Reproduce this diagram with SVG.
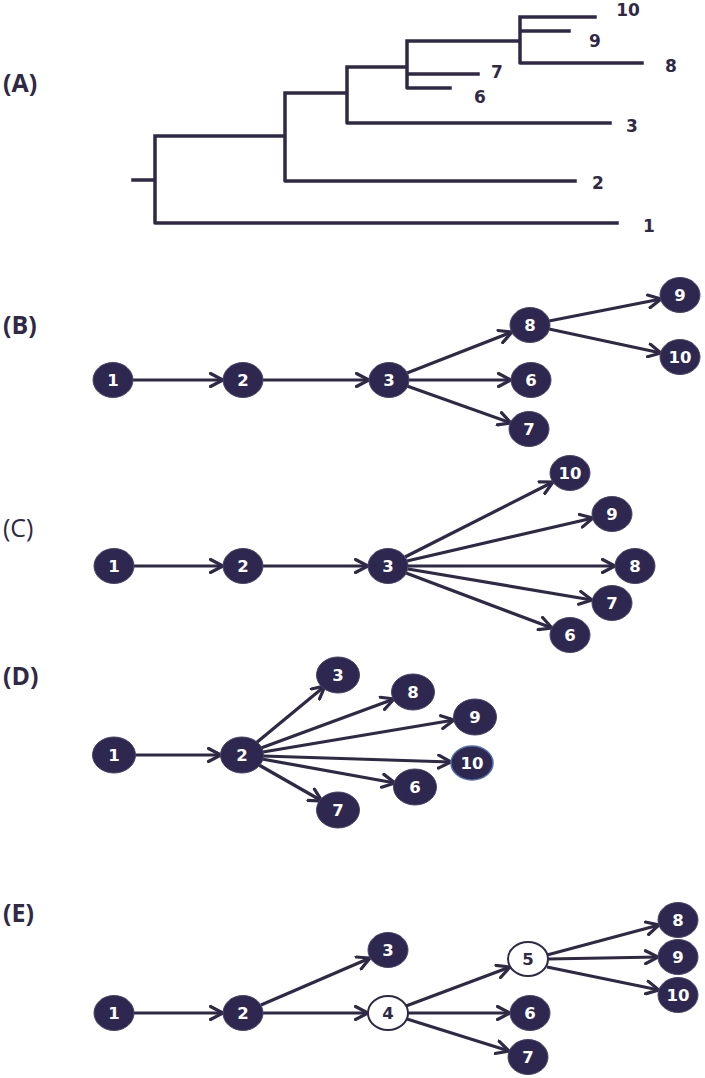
<svg xmlns="http://www.w3.org/2000/svg" width="705" height="1078" viewBox="0 0 705 1078">
<style>
.bg{fill:#ffffff}
.tree{fill:none;stroke:#2f2946;stroke-width:3.5;stroke-linecap:square;stroke-linejoin:round}
.tl{font-family:"DejaVu Sans",Verdana,sans-serif;font-weight:bold;font-size:17px;fill:#2f2946;text-anchor:middle}
.pl{font-family:"Open Sans","DejaVu Sans",sans-serif;font-weight:bold;font-size:25px;fill:#2f2946}
.plr{font-family:"Open Sans","DejaVu Sans",sans-serif;font-weight:normal;font-size:25px;fill:#2f2946}
.edge{fill:none;stroke:#2f2946;stroke-width:3.2;marker-end:url(#arr)}
.n ellipse{fill:#2e2850;stroke:#4a4468;stroke-width:1}
.n text{font-family:"DejaVu Sans",Verdana,sans-serif;font-weight:bold;font-size:16.5px;fill:#ffffff;text-anchor:middle}
.w ellipse{fill:#ffffff;stroke:#2f2946;stroke-width:2}
.w text{font-family:"DejaVu Sans",Verdana,sans-serif;font-weight:bold;font-size:16.5px;fill:#2f2946;text-anchor:middle}
</style>
<defs>
<marker id="arr" viewBox="0 0 16 16" refX="14" refY="8" markerWidth="16" markerHeight="16" markerUnits="userSpaceOnUse" orient="auto">
<path d="M1.5,1.5 L14,8 L1.5,14.5" fill="none" stroke="#2f2946" stroke-width="3.2" stroke-linecap="round" stroke-linejoin="miter"/>
</marker>
</defs>
<rect class="bg" x="0" y="0" width="705" height="1078"/>

<!-- Panel A: tree -->
<g id="panelA">
<text class="pl" x="3" y="92">(A)</text>
<path class="tree" d="M133,180 H155 M155,136 V223 H617 M155,136 H285 M285,93 V181 H575 M285,93 H347 M347,67 V123 H610 M347,67 H407 M407,41 V88 H450 M407,74 H478 M407,41 H520 M520,17 V63 H642 M520,17 H595 M520,31 H569"/>
<text class="tl" x="628" y="16">10</text>
<text class="tl" x="595" y="47">9</text>
<text class="tl" x="671" y="72">8</text>
<text class="tl" x="497" y="78">7</text>
<text class="tl" x="480" y="103">6</text>
<text class="tl" x="632" y="132">3</text>
<text class="tl" x="598" y="189">2</text>
<text class="tl" x="649" y="232">1</text>
</g>

<text class="pl" x="3" y="334">(B)</text>
<text class="plr" x="3" y="537">(C)</text>
<text class="pl" x="3" y="685">(D)</text>
<text class="pl" x="3" y="922">(E)</text>

<g id="connectors">
<!-- B -->
<line class="edge" x1="133" y1="380" x2="223" y2="380"/>
<line class="edge" x1="263" y1="380" x2="369" y2="380"/>
<line class="edge" x1="407" y1="373" x2="512" y2="332"/>
<line class="edge" x1="409" y1="380" x2="511" y2="380"/>
<line class="edge" x1="407" y1="386" x2="511" y2="423"/>
<line class="edge" x1="549" y1="321" x2="661" y2="299"/>
<line class="edge" x1="549" y1="329" x2="661" y2="353"/>
<!-- C -->
<line class="edge" x1="134" y1="566" x2="223" y2="566"/>
<line class="edge" x1="263" y1="566" x2="368" y2="566"/>
<line class="edge" x1="405" y1="557" x2="553" y2="482"/>
<line class="edge" x1="407" y1="561" x2="593" y2="518"/>
<line class="edge" x1="408" y1="566" x2="615" y2="566"/>
<line class="edge" x1="408" y1="569" x2="592" y2="600"/>
<line class="edge" x1="406" y1="573" x2="552" y2="628"/>
<!-- D -->
<line class="edge" x1="135" y1="755" x2="221" y2="755"/>
<line class="edge" x1="256" y1="743" x2="325" y2="686"/>
<line class="edge" x1="261" y1="748" x2="394" y2="699"/>
<line class="edge" x1="263" y1="752" x2="454" y2="720"/>
<line class="edge" x1="263" y1="756" x2="451" y2="762"/>
<line class="edge" x1="262" y1="759" x2="395" y2="783"/>
<line class="edge" x1="259" y1="765" x2="322" y2="801"/>
<!-- E -->
<line class="edge" x1="134" y1="1013" x2="223" y2="1013"/>
<line class="edge" x1="261" y1="1005" x2="370" y2="958"/>
<line class="edge" x1="263" y1="1013" x2="368" y2="1013"/>
<line class="edge" x1="406" y1="1006" x2="510" y2="967"/>
<line class="edge" x1="408" y1="1013" x2="510" y2="1013"/>
<line class="edge" x1="407" y1="1019" x2="509" y2="1051"/>
<line class="edge" x1="547" y1="955" x2="659" y2="925"/>
<line class="edge" x1="548" y1="959" x2="658" y2="957"/>
<line class="edge" x1="547" y1="967" x2="659" y2="990"/>
</g>

<!-- Panel B nodes -->
<g id="B1" class="n"><ellipse cx="113" cy="380" rx="20" ry="17.5"/><text x="113" y="386">1</text></g>
<g id="B2" class="n"><ellipse cx="243" cy="380" rx="20" ry="17.5"/><text x="243" y="386">2</text></g>
<g id="B3" class="n"><ellipse cx="389" cy="380" rx="20" ry="17.5"/><text x="389" y="386">3</text></g>
<g id="B8" class="n"><ellipse cx="530" cy="325" rx="20" ry="17.5"/><text x="530" y="331">8</text></g>
<g id="B6" class="n"><ellipse cx="531" cy="380" rx="20" ry="17.5"/><text x="531" y="386">6</text></g>
<g id="B7" class="n"><ellipse cx="529" cy="429" rx="20" ry="17.5"/><text x="529" y="435">7</text></g>
<g id="B9" class="n"><ellipse cx="680" cy="295" rx="20" ry="17.5"/><text x="680" y="301">9</text></g>
<g id="B10" class="n"><ellipse cx="680" cy="357" rx="20" ry="17.5"/><text x="680" y="363">10</text></g>

<!-- Panel C nodes -->
<g id="C1" class="n"><ellipse cx="114" cy="566" rx="20" ry="17.5"/><text x="114" y="572">1</text></g>
<g id="C2" class="n"><ellipse cx="243" cy="566" rx="20" ry="17.5"/><text x="243" y="572">2</text></g>
<g id="C3" class="n"><ellipse cx="388" cy="566" rx="20" ry="17.5"/><text x="388" y="572">3</text></g>
<g id="C10" class="n"><ellipse cx="570" cy="473" rx="20" ry="17.5"/><text x="570" y="479">10</text></g>
<g id="C9" class="n"><ellipse cx="612" cy="514" rx="20" ry="17.5"/><text x="612" y="520">9</text></g>
<g id="C8" class="n"><ellipse cx="635" cy="566" rx="20" ry="17.5"/><text x="635" y="572">8</text></g>
<g id="C7" class="n"><ellipse cx="612" cy="603" rx="20" ry="17.5"/><text x="612" y="609">7</text></g>
<g id="C6" class="n"><ellipse cx="570" cy="635" rx="20" ry="17.5"/><text x="570" y="641">6</text></g>

<!-- Panel D nodes -->
<g id="D1" class="n"><ellipse cx="114" cy="755" rx="21.5" ry="18"/><text x="114" y="761">1</text></g>
<g id="D2" class="n"><ellipse cx="242" cy="755" rx="21.5" ry="18"/><text x="242" y="761">2</text></g>
<g id="D3" class="n"><ellipse cx="338" cy="675" rx="21.5" ry="18"/><text x="338" y="681">3</text></g>
<g id="D8" class="n"><ellipse cx="413" cy="692" rx="21.5" ry="18"/><text x="413" y="698">8</text></g>
<g id="D9" class="n"><ellipse cx="475" cy="717" rx="21.5" ry="18"/><text x="475" y="723">9</text></g>
<g id="D10" class="n"><ellipse cx="472" cy="763" rx="21" ry="17" style="stroke:#4f6fae;stroke-width:1.5"/><text x="472" y="769">10</text></g>
<g id="D6" class="n"><ellipse cx="415" cy="787" rx="21.5" ry="18"/><text x="415" y="793">6</text></g>
<g id="D7" class="n"><ellipse cx="338" cy="810" rx="21.5" ry="18"/><text x="338" y="816">7</text></g>

<!-- Panel E nodes -->
<g id="E1" class="n"><ellipse cx="114" cy="1013" rx="20" ry="17.5"/><text x="114" y="1019">1</text></g>
<g id="E2" class="n"><ellipse cx="243" cy="1013" rx="20" ry="17.5"/><text x="243" y="1019">2</text></g>
<g id="E3" class="n"><ellipse cx="388" cy="950" rx="20" ry="17.5"/><text x="388" y="956">3</text></g>
<g id="E4" class="w"><ellipse cx="388" cy="1013" rx="20" ry="17"/><text x="388" y="1019">4</text></g>
<g id="E5" class="w"><ellipse cx="528" cy="959" rx="20" ry="17"/><text x="528" y="965">5</text></g>
<g id="E6" class="n"><ellipse cx="530" cy="1013" rx="20" ry="17.5"/><text x="530" y="1019">6</text></g>
<g id="E7" class="n"><ellipse cx="528" cy="1057" rx="20" ry="17.5"/><text x="528" y="1063">7</text></g>
<g id="E8" class="n"><ellipse cx="678" cy="920" rx="20" ry="17.5"/><text x="678" y="926">8</text></g>
<g id="E9" class="n"><ellipse cx="678" cy="957" rx="20" ry="17.5"/><text x="678" y="963">9</text></g>
<g id="E10" class="n"><ellipse cx="678" cy="995" rx="20" ry="17.5"/><text x="678" y="1001">10</text></g>
</svg>
